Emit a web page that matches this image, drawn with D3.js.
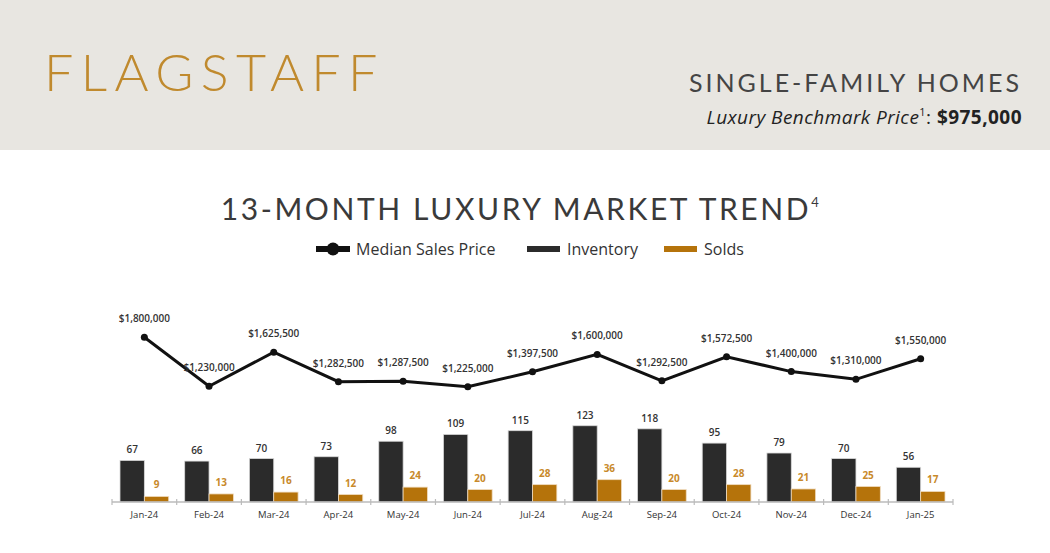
<!DOCTYPE html>
<html>
<head>
<meta charset="utf-8">
<script src="https://cdn.jsdelivr.net/npm/d3@7"></script>
<style>
  body { margin: 0; background: #fff; }
  svg { display: block; }
</style>
</head>
<body>
<svg id="chart" width="1050" height="553"></svg>
<script>
// Data
const months = ["Jan-24", "Feb-24", "Mar-24", "Apr-24", "May-24", "Jun-24", "Jul-24",
  "Aug-24", "Sep-24", "Oct-24", "Nov-24", "Dec-24", "Jan-25"];
const medianPrice = [1800000, 1230000, 1625500, 1282500, 1287500, 1225000, 1397500,
  1600000, 1292500, 1572500, 1400000, 1310000, 1550000];
const inventory = [67, 66, 70, 73, 98, 109, 115, 123, 118, 95, 79, 70, 56];
const solds = [9, 13, 16, 12, 24, 20, 28, 36, 20, 28, 21, 25, 17];

const gold = "#b5730b";
const goldText = "#c8892a";
const dark = "#2b2b2b";

const svg = d3.select("#chart");

// Header band
svg.append("rect")
    .attr("width", 1050).attr("height", 150)
    .attr("fill", "#e8e6e1");

svg.append("text")
    .attr("x", 44).attr("y", 91)
    .attr("font-family", "Lato, 'Open Sans', sans-serif")
    .attr("font-weight", 300)
    .attr("font-size", 52)
    .attr("letter-spacing", 7.4)
    .attr("fill", "#c08a2e")
    .text("FLAGSTAFF");

svg.append("text")
    .attr("x", 1022).attr("y", 92)
    .attr("text-anchor", "end")
    .attr("font-family", "Lato, 'Open Sans', sans-serif")
    .attr("font-size", 25)
    .attr("letter-spacing", 3)
    .attr("fill", "#444")
    .text("SINGLE-FAMILY HOMES");

const bench = svg.append("text")
    .attr("x", 1022).attr("y", 124)
    .attr("text-anchor", "end")
    .attr("font-family", "'Open Sans', sans-serif")
    .attr("font-size", 19)
    .attr("letter-spacing", 0.45)
    .attr("fill", "#222");
bench.append("tspan").attr("font-style", "italic").text("Luxury Benchmark Price");
bench.append("tspan").attr("font-size", 11).attr("dy", -8).text("1");
bench.append("tspan").attr("dy", 8).text(": ");
bench.append("tspan").attr("font-weight", 700).text("$975,000");

// Title
const title = svg.append("text")
    .attr("x", 521).attr("y", 220)
    .attr("text-anchor", "middle")
    .attr("font-family", "Lato, 'Open Sans', sans-serif")
    .attr("font-size", 30)
    .attr("letter-spacing", 2.6)
    .attr("fill", "#3a3a3a");
title.append("tspan").text("13-MONTH LUXURY MARKET TREND");
title.append("tspan").attr("font-size", 13).attr("dy", -13).text("4");

// Legend
const legend = svg.append("g").attr("font-family", "'Open Sans', sans-serif")
    .attr("font-size", 16).attr("fill", "#333");
legend.append("rect").attr("x", 316).attr("y", 246).attr("width", 34).attr("height", 6).attr("fill", "#111");
legend.append("circle").attr("cx", 333).attr("cy", 249).attr("r", 6.5).attr("fill", "#111");
legend.append("text").attr("x", 356).attr("y", 255).text("Median Sales Price");
legend.append("rect").attr("x", 527).attr("y", 246).attr("width", 33).attr("height", 6).attr("fill", dark);
legend.append("text").attr("x", 567).attr("y", 255).text("Inventory");
legend.append("rect").attr("x", 664).attr("y", 246).attr("width", 33).attr("height", 6).attr("fill", gold);
legend.append("text").attr("x", 704).attr("y", 255).text("Solds");

// Scales
const x = d3.scaleBand()
    .domain(months)
    .range([112, 953]);

const barPad = 8;
const barW = (x.bandwidth() - 2 * barPad) / 2;

const yBar = d3.scaleLinear()
    .domain([0, 200])
    .range([502, 378]);

const yPrice = d3.scaleLinear()
    .domain([0, 2000000])
    .range([492, 320]);

const chart = svg.append("g").attr("font-family", "'Open Sans', sans-serif");

// Inventory bars
chart.selectAll(".inv")
    .data(months)
    .enter()
    .append("rect")
    .attr("class", "inv")
    .attr("x", d => x(d) + barPad)
    .attr("y", (d, i) => yBar(inventory[i]))
    .attr("width", barW)
    .attr("height", (d, i) => yBar(0) - yBar(inventory[i]))
    .attr("fill", dark)
    .attr("stroke", "#d8d8d8")
    .attr("stroke-width", 0.8);

// Solds bars
chart.selectAll(".sold")
    .data(months)
    .enter()
    .append("rect")
    .attr("class", "sold")
    .attr("x", d => x(d) + barPad + barW)
    .attr("y", (d, i) => yBar(solds[i]))
    .attr("width", barW)
    .attr("height", (d, i) => yBar(0) - yBar(solds[i]))
    .attr("fill", gold)
    .attr("stroke", "#f0dcc0")
    .attr("stroke-width", 0.8);

// Bar labels
chart.selectAll(".invLabel")
    .data(months)
    .enter()
    .append("text")
    .attr("x", d => x(d) + barPad + barW / 2)
    .attr("y", (d, i) => yBar(inventory[i]) - 7)
    .attr("text-anchor", "middle")
    .attr("font-size", 10)
    .attr("font-weight", 600)
    .attr("fill", "#333")
    .text((d, i) => inventory[i]);

chart.selectAll(".soldLabel")
    .data(months)
    .enter()
    .append("text")
    .attr("x", d => x(d) + barPad + barW * 1.5)
    .attr("y", (d, i) => yBar(solds[i]) - 8)
    .attr("text-anchor", "middle")
    .attr("font-size", 10)
    .attr("font-weight", 700)
    .attr("fill", goldText)
    .text((d, i) => solds[i]);

// X axis
const axis = chart.append("g")
    .attr("transform", `translate(0, ${yBar(0)})`);
axis.append("line")
    .attr("x1", 112).attr("x2", 953)
    .attr("stroke", "#bbb").attr("stroke-width", 1.5);
axis.selectAll(".tick")
    .data(months.concat(["end"]))
    .enter()
    .append("line")
    .attr("x1", (d, i) => 112 + i * x.step())
    .attr("x2", (d, i) => 112 + i * x.step())
    .attr("y1", -3).attr("y2", 3)
    .attr("stroke", "#bbb").attr("stroke-width", 1.2);
axis.selectAll(".lbl")
    .data(months)
    .enter()
    .append("text")
    .attr("x", d => x(d) + x.bandwidth() / 2)
    .attr("y", 16)
    .attr("text-anchor", "middle")
    .attr("font-size", 9.5)
    .attr("fill", "#333")
    .text(d => d);

// Median price line
const line = d3.line()
    .x((d, i) => x(months[i]) + x.bandwidth() / 2)
    .y(d => yPrice(d));

chart.append("path")
    .datum(medianPrice)
    .attr("d", line)
    .attr("fill", "none")
    .attr("stroke", "#111")
    .attr("stroke-width", 3);

chart.selectAll(".pt")
    .data(medianPrice)
    .enter()
    .append("circle")
    .attr("cx", (d, i) => x(months[i]) + x.bandwidth() / 2)
    .attr("cy", d => yPrice(d))
    .attr("r", 3.5)
    .attr("fill", "#111");

chart.selectAll(".priceLabel")
    .data(medianPrice)
    .enter()
    .append("text")
    .attr("x", (d, i) => x(months[i]) + x.bandwidth() / 2)
    .attr("y", d => yPrice(d) - 15)
    .attr("text-anchor", "middle")
    .attr("font-size", 10)
    .attr("font-weight", 600)
    .attr("fill", "#333")
    .text(d => "$" + d3.format(",")(d));
</script>
</body>
</html>
